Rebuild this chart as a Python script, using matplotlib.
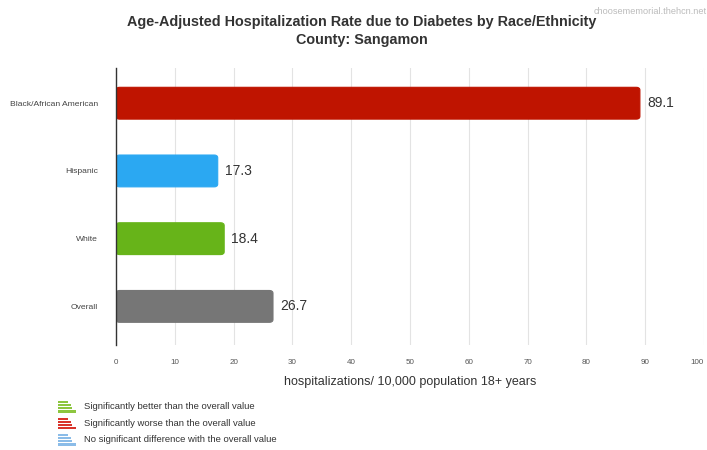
import matplotlib
matplotlib.use("Agg")
import matplotlib.pyplot as plt
from matplotlib.patches import FancyBboxPatch, Rectangle

categories = ["Black/African American", "Hispanic", "White", "Overall"]
values = [89.1, 17.3, 18.4, 26.7]
colors = ["#BF1400", "#2BA8F2", "#67B419", "#767676"]
xticks = [0, 10, 20, 30, 40, 50, 60, 70, 80, 90, 100]
legend_labels = ["Significantly better than the overall value",
                 "Significantly worse than the overall value",
                 "No significant difference with the overall value"]
legend_colors = ["#8DC63F", "#D9342B", "#8BBCE8"]

plt.rcParams['font.family'] = ['Liberation Sans', 'DejaVu Sans']

fig = plt.figure(figsize=(7.07, 4.5), dpi=100)
ax = fig.add_axes([116/707, 1-345/450, (704-116)/707, (345-68)/450])

bar_h = 0.47
for i, (v, c) in enumerate(zip(values, colors)):
    p = FancyBboxPatch((0, i - bar_h/2), v, bar_h,
                       boxstyle="round,pad=0,rounding_size=0.6",
                       mutation_aspect=0.07,
                       facecolor=c, edgecolor=c, linewidth=0.8, zorder=3)
    ax.add_patch(p)
    ax.text(v + 1.2, i, f"{v}", va="center", ha="left", fontsize=10, color="#333333", zorder=4)

ax.set_xlim(0, 100)
ax.set_ylim(3.57, -0.52)
ax.set_yticks(range(len(categories)))
ax.set_yticklabels(categories, fontsize=6.1, color="#444444")
ax.set_xticks(xticks)
ax.set_xticklabels([str(t) for t in xticks], fontsize=5.8, color="#555555")
ax.get_xticklabels()[-1].set_horizontalalignment("right")
ax.tick_params(axis='both', length=0, pad=0)
ax.tick_params(axis='y', pad=13)
ax.tick_params(axis='x', pad=10)
ax.grid(axis='x', color="#E3E3E3", linewidth=0.8, zorder=0)
ax.set_axisbelow(True)
for s in ["top", "right", "bottom"]:
    ax.spines[s].set_visible(False)
ax.spines["left"].set_color("#333333")
ax.spines["left"].set_linewidth(1.0)
ax.spines["left"].set_zorder(5)
ax.set_xlabel("hospitalizations/ 10,000 population 18+ years", fontsize=9, color="#333333", labelpad=7)

fig.text(0.512, 1-22/450, "Age-Adjusted Hospitalization Rate due to Diabetes by Race/Ethnicity",
         ha="center", va="center", fontsize=10.4, fontweight="bold", color="#333333")
fig.text(0.512, 1-40/450, "County: Sangamon",
         ha="center", va="center", fontsize=10.4, fontweight="bold", color="#333333")
fig.text(0.999, 1-12/450, "choosememorial.thehcn.net", ha="right", va="center",
         fontsize=6.6, color="#BBBBBB")

# legend
fracs = [0.55, 0.7, 0.75, 1.0]
for k, (lab, lc) in enumerate(zip(legend_labels, legend_colors)):
    yc = 406.5 + k * 16.5
    for j, f in enumerate(fracs):
        y = yc - 5.5 + j * 3.1
        fig.patches.append(Rectangle((58/707, 1-(y+2.2)/450), 18*f/707, 2.2/450,
                                     transform=fig.transFigure, facecolor=lc, edgecolor='none'))
    fig.text(84/707, 1-yc/450, lab, ha="left", va="center", fontsize=6.8, color="#333333")

fig.savefig("out.png", dpi=100, facecolor="white")
